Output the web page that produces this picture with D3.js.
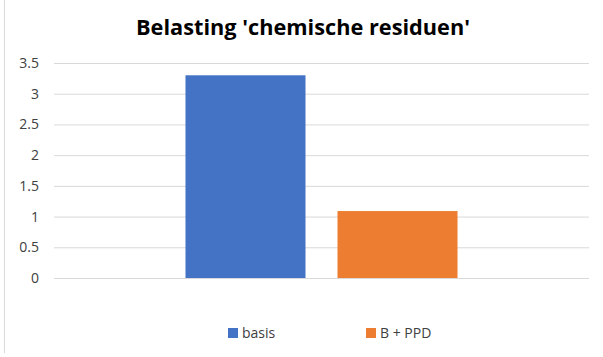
<!DOCTYPE html>
<html>
<head>
<meta charset="utf-8">
<script src="https://cdn.jsdelivr.net/npm/d3@7"></script>
<style>
  html, body { margin: 0; padding: 0; background: #fff; }
  svg { display: block; }
  text { font-family: "Open Sans", "Noto Sans", sans-serif; }
</style>
</head>
<body>
<svg id="chart" width="603" height="357"></svg>
<script>
const title = "Belasting 'chemische residuen'";
const series = ["basis", "B + PPD"];
const values = [3.3, 1.09];
const colors = ["#4472C4", "#ED7D31"];
const yTicks = [0, 0.5, 1, 1.5, 2, 2.5, 3, 3.5];

const W = 603, H = 357;
const m = { left: 54, right: 14, top: 63, bottom: 79 };
const svg = d3.select("#chart");

svg.append("rect").attr("width", W).attr("height", H).attr("fill", "#fff");
// chart border (left edge visible)
svg.append("line").attr("x1", 4.5).attr("x2", 4.5).attr("y1", 0).attr("y2", H - 4)
  .attr("stroke", "#d9d9d9").attr("stroke-width", 1);

const y = d3.scaleLinear().domain([0, 3.5]).range([H - m.bottom, m.top]);
const x = d3.scaleBand().domain(series).range([m.left, W - m.right])
  .paddingInner(0.2105).paddingOuter(0.865);

// gridlines
const yAxis = d3.axisLeft(y).tickValues(yTicks).tickSize(-(W - m.left - m.right))
  .tickFormat(d => String(d)).tickPadding(15);
const ga = svg.append("g").attr("transform", `translate(${m.left},0)`).call(yAxis);
ga.select(".domain").remove();
ga.selectAll(".tick line").attr("stroke", "#d9d9d9").attr("stroke-width", 1);
ga.selectAll(".tick text").attr("fill", "#404040").style("font-size", "14px")
  .style("font-family", "'Open Sans', sans-serif");

// bars
svg.append("g").selectAll("rect").data(series).join("rect")
  .attr("x", d => x(d))
  .attr("width", x.bandwidth())
  .attr("y", (d, i) => y(values[i]))
  .attr("height", (d, i) => y(0) - y(values[i]))
  .attr("fill", (d, i) => colors[i]);

// title
svg.append("text").attr("x", 303).attr("y", 34.5).attr("text-anchor", "middle")
  .attr("font-weight", "bold").style("font-size", "21px").attr("fill", "#000")
  .attr("textLength", 334).attr("lengthAdjust", "spacingAndGlyphs")
  .text(title);

// legend
const legX = [228, 366];
const lg = svg.append("g");
series.forEach((s, i) => {
  lg.append("rect").attr("x", legX[i]).attr("y", 328).attr("width", 10).attr("height", 10)
    .attr("fill", colors[i]);
  lg.append("text").attr("x", legX[i] + 14).attr("y", 338).attr("fill", "#404040")
    .style("font-size", "14px").text(s);
});
</script>
</body>
</html>
